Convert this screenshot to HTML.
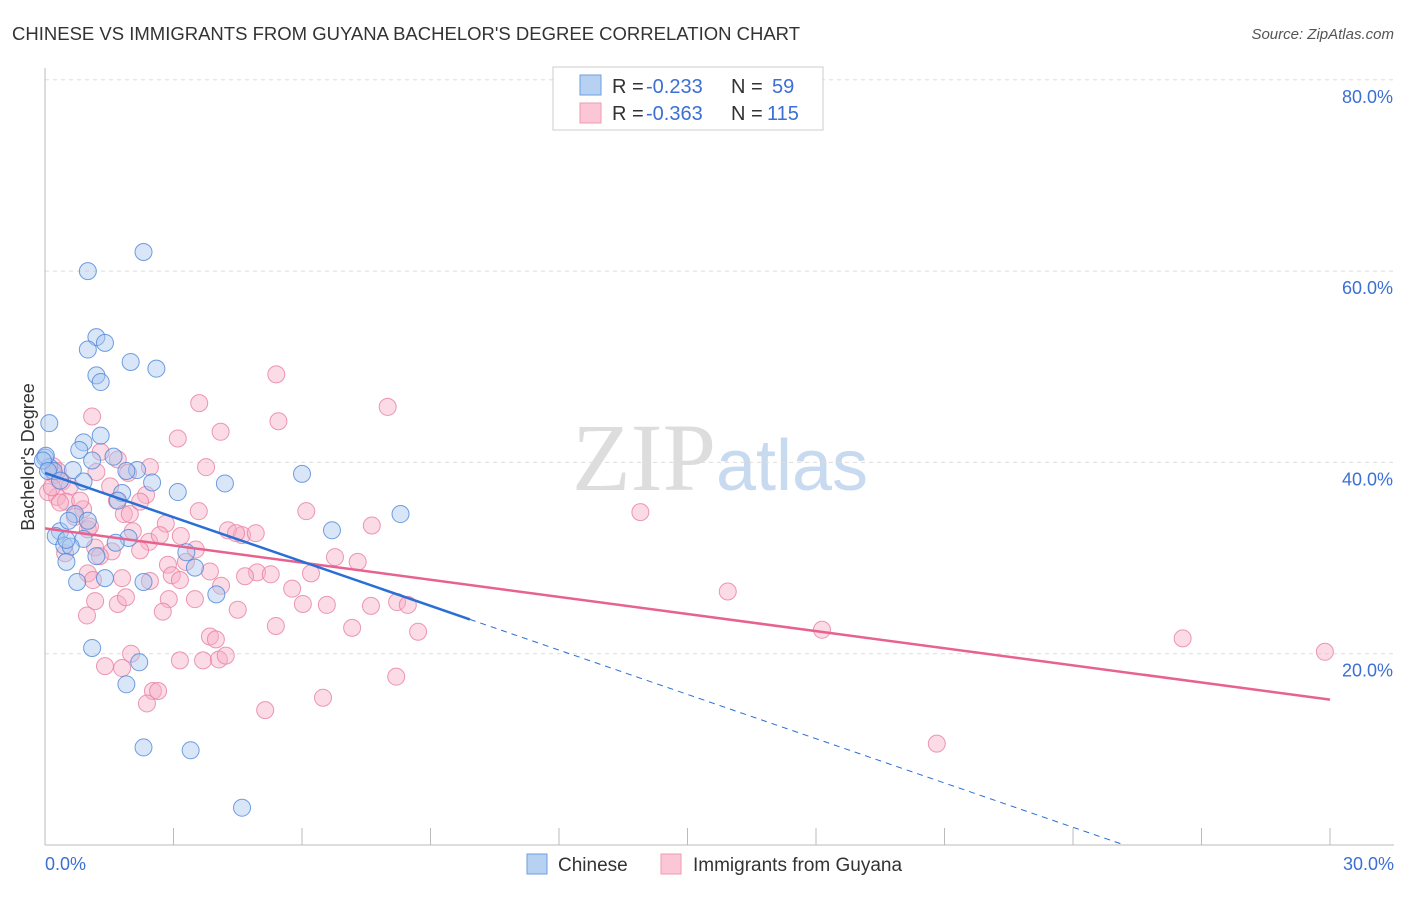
<!DOCTYPE html>
<html><head><meta charset="utf-8"><style>
body{margin:0;background:#fff;font-family:"Liberation Sans",sans-serif;}
</style></head><body>
<svg width="1406" height="892" xmlns="http://www.w3.org/2000/svg" font-family="Liberation Sans, sans-serif">
<text x="12" y="40" font-size="18" fill="#333" textLength="788" lengthAdjust="spacingAndGlyphs">CHINESE VS IMMIGRANTS FROM GUYANA BACHELOR'S DEGREE CORRELATION CHART</text>
<text x="1394" y="39" font-size="15" fill="#555" font-style="italic" text-anchor="end">Source: ZipAtlas.com</text>
<text x="720" y="490" font-size="96" fill="#ddd" text-anchor="middle" font-family="Liberation Serif, serif">ZIP<tspan fill="#c8daf0" font-family="Liberation Sans, sans-serif" font-size="72">atlas</tspan></text>
<g id="grid"></g>
<line x1="45" y1="68" x2="45" y2="845" stroke="#bbb"/>
<line x1="45" y1="845" x2="1394" y2="845" stroke="#bbb"/>
<text transform="translate(34,457) rotate(-90)" font-size="18" fill="#333" text-anchor="middle">Bachelor's Degree</text>
<text x="45" y="870" font-size="18" fill="#3b6fd4">0.0%</text>
<text x="1394" y="870" font-size="18" fill="#3b6fd4" text-anchor="end">30.0%</text>
<g id="pts"></g>
<g id="lines"></g>
<g font-size="20">
<rect x="553" y="67" width="270" height="63" fill="#fff" stroke="#ccc"/>
<rect x="580" y="75" width="21" height="20" fill="#b7d1f3" stroke="#6d9ee0"/>
<rect x="580" y="103" width="21" height="20" fill="#fbc7d6" stroke="#ec9ab4"/>
<text x="612" y="93" fill="#333">R =</text><text x="646" y="93" fill="#3b6fd4">-0.233</text>
<text x="731" y="93" fill="#333">N =</text><text x="772" y="93" fill="#3b6fd4">59</text>
<text x="612" y="120" fill="#333">R =</text><text x="646" y="120" fill="#3b6fd4">-0.363</text>
<text x="731" y="120" fill="#333">N =</text><text x="767" y="120" fill="#3b6fd4">115</text>
</g>
<g>
<rect x="527" y="854" width="20" height="20" fill="#b7d1f3" stroke="#6d9ee0"/>
<text x="558" y="871" font-size="19" fill="#333">Chinese</text>
<rect x="661" y="854" width="20" height="20" fill="#fbc7d6" stroke="#ec9ab4"/>
<text x="693" y="871" font-size="19" fill="#333">Immigrants from Guyana</text>
</g>
</svg>
<script>
const yTicks=[20,40,60,80];
const xTicks=[0,3,6,9,12,15,18,21,24,27,30];
const chineseX=[2.3,1.0,1.2,1.4,1.0,2.0,2.6,1.2,1.3,0.1,0.9,1.3,0.8,1.6,1.1,2.15,0,0.1,0.2,0.65,1.9,0.9,2.5,4.2,6.0,3.1,1.8,1.7,0.7,1.0,8.3,6.7,0.35,0.25,1.95,0.9,0.45,0.6,1.65,3.3,1.2,0.5,3.5,0.75,1.4,2.3,4.0,1.1,2.2,1.9,2.3,3.4,4.6,0.02,-0.05,0.07,0.35,0.55,0.5];
const chineseY=[62.0,60.0,53.1,52.5,51.8,50.5,49.8,49.1,48.4,44.1,42.1,42.8,41.3,40.6,40.2,39.2,40.5,39.5,39.1,39.2,39.1,38.0,37.9,37.8,38.8,36.9,36.8,36.0,34.6,33.9,34.6,32.9,32.8,32.3,32.1,32.0,31.3,31.2,31.6,30.6,30.2,29.6,29.0,27.5,27.9,27.5,26.2,20.6,19.1,16.8,10.2,9.9,3.9,40.7,40.2,39.1,38.1,33.9,31.9];
const guyanaX=[5.4,3.6,8.0,1.1,5.45,4.1,3.1,1.3,1.7,3.76,2.45,1.2,1.94,0.23,0.4,0.58,1.52,2.36,0.28,0.49,1.68,0.89,3.59,6.1,13.9,1.84,0.7,2.82,7.63,1.0,4.27,4.6,4.92,4.46,2.05,3.17,2.43,1.17,3.52,0.47,1.56,6.77,7.3,3.29,2.87,3.85,1.0,2.96,4.95,5.27,4.67,6.21,1.8,1.12,2.45,3.15,5.77,4.11,15.94,2.89,3.5,6.02,6.58,8.22,8.47,1.17,1.7,1.89,2.75,4.5,7.61,0.98,5.39,7.17,8.71,18.14,3.85,3.99,1.4,1.8,2.01,3.15,3.69,4.06,4.22,26.56,29.88,2.52,2.64,2.38,5.14,6.49,8.2,20.82,0.07,0.16,0.35,0.82,1.05,1.28,2.22,2.68,1.98,2.22,0.19,0.3];
const guyanaY=[49.2,46.2,45.8,44.8,44.3,43.2,42.5,41.1,40.3,39.5,39.5,39.0,38.9,38.7,38.0,37.5,37.5,36.6,36.4,35.9,36.0,35.1,34.9,34.9,34.8,34.6,34.3,33.6,33.4,33.0,32.9,32.4,32.6,32.6,32.8,32.3,31.7,31.1,30.9,30.5,30.7,30.1,29.6,29.6,29.3,28.6,28.4,28.2,28.5,28.3,28.1,28.4,27.9,27.7,27.6,27.7,26.8,27.1,26.5,25.7,25.7,25.2,25.1,25.4,25.1,25.5,25.2,25.9,24.4,24.6,25.0,24.0,22.9,22.7,22.3,22.5,21.8,21.5,18.7,18.5,20.0,19.3,19.3,19.4,19.8,21.6,20.2,16.1,16.1,14.8,14.1,15.4,17.6,10.6,36.9,37.4,35.8,36.0,33.3,30.2,30.8,32.4,34.6,35.9,39.6,39.1];
const X=v=>45+v/30*1285, Y=v=>845-v/20*191.3;
const NS='http://www.w3.org/2000/svg';
const grid=document.getElementById('grid');
yTicks.forEach(t=>{
 const l=document.createElementNS(NS,'line');
 
 
 l.setAttribute('x1',45);l.setAttribute('x2',1394);l.setAttribute('y1',Y(t));l.setAttribute('y2',Y(t));
 l.setAttribute('stroke','#ddd');l.setAttribute('stroke-dasharray','4,4');grid.appendChild(l);
 const tx=document.createElementNS(NS,'text');
 
 
 tx.setAttribute('x',1393);tx.setAttribute('y',Y(t)+23);tx.setAttribute('text-anchor','end');
 tx.setAttribute('font-size','18');tx.setAttribute('fill','#3b6fd4');tx.textContent=t.toFixed(1)+'%';grid.appendChild(tx);
});
xTicks.forEach(t=>{
 const l=document.createElementNS(NS,'line');
 
 
 l.setAttribute('x1',X(t));l.setAttribute('x2',X(t));l.setAttribute('y1',828);l.setAttribute('y2',845);
 l.setAttribute('stroke','#bbb');grid.appendChild(l);
});
const pts=document.getElementById('pts');
function dots(xs,ys,fill,stroke,name){
 xs.forEach((x,i)=>{
  const c=document.createElementNS(NS,'circle');
  
  
  c.setAttribute('cx',X(x));c.setAttribute('cy',Y(ys[i]));c.setAttribute('r',8.5);
  c.setAttribute('fill',fill);c.setAttribute('fill-opacity','0.45');c.setAttribute('stroke',stroke);c.setAttribute('stroke-opacity','0.8');
  pts.appendChild(c);
 });
}
dots(guyanaX,guyanaY,'#f7afc5','#e87fa0','guyana-point');
dots(chineseX,chineseY,'#a9c8f0','#4f86d8','chinese-point');
const lines=document.getElementById('lines');
function ln(x1,y1,x2,y2,col,dash,name){
 const l=document.createElementNS(NS,'line');
 
 
 l.setAttribute('x1',X(x1));l.setAttribute('y1',Y(y1));l.setAttribute('x2',X(x2));l.setAttribute('y2',Y(y2));
 l.setAttribute('stroke',col);l.setAttribute('stroke-width',dash?1:2.5);if(dash)l.setAttribute('stroke-dasharray','6,5');
 lines.appendChild(l);
}
const bA=38.9,bB=-38.9/25.2,pA=33.1,pB=(15.2-33.1)/30;
ln(0,pA,30,pA+pB*30,'#e8628f',false,'guyana-trendline');
ln(0,bA,9.92,bA+bB*9.92,'#2a6fd6',false,'chinese-trendline');
ln(9.92,bA+bB*9.92,25.2,bA+bB*25.2,'#2a6fd6',true,'chinese-trendline-extension');
</script>
</body></html>
